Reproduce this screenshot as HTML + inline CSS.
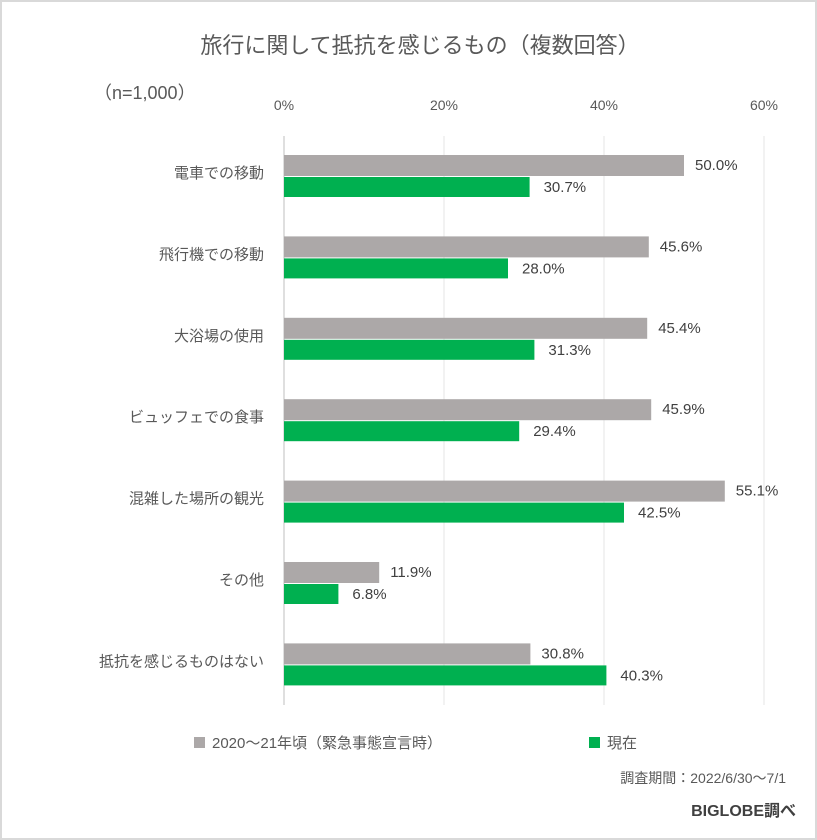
<!DOCTYPE html>
<html><head><meta charset="utf-8">
<style>
body{margin:0;background:#fff;}
svg{display:block;font-family:"Liberation Sans","Noto Sans CJK JP",sans-serif;}
</style></head>
<body>
<svg id="c" width="817" height="840">
<rect x="1" y="1" width="815" height="838" fill="#fff" stroke="#d9d9d9" stroke-width="2"/>
<text x="420" y="53" font-size="22" fill="#595959" text-anchor="middle">旅行に関して抵抗を感じるもの（複数回答）</text>
<text x="94" y="99" font-size="18" fill="#595959">（n=1,000）</text>
<g id="grid"></g>
<g id="bars"></g>
<rect x="194" y="737" width="11" height="11" fill="#aca8a8"/>
<text x="212" y="748" font-size="15" fill="#595959">2020～21年頃（緊急事態宣言時）</text>
<rect x="589" y="737" width="11" height="11" fill="#00b050"/>
<text x="607" y="748" font-size="15" fill="#595959">現在</text>
<text x="786" y="783" font-size="14" fill="#595959" text-anchor="end">調査期間：2022/6/30～7/1</text>
<text x="796" y="816" font-size="16" font-weight="bold" fill="#404040" text-anchor="end">BIGLOBE調べ</text>
</svg>
<script>
const categories=["電車での移動","飛行機での移動","大浴場の使用","ビュッフェでの食事","混雑した場所の観光","その他","抵抗を感じるものはない"];
const past=[50.0,45.6,45.4,45.9,55.1,11.9,30.8];
const now=[30.7,28.0,31.3,29.4,42.5,6.8,40.3];
const ticks=[0,20,40,60];
const NS="http://www.w3.org/2000/svg";
const x0=284,pxPer=8,top0=155,step=81.4;
const xs=v=>x0+v*pxPer;
function mk(t,a,p){const e=document.createElementNS(NS,t);for(const k in a)e.setAttribute(k,a[k]);p.appendChild(e);return e;}
const g=document.getElementById('grid'),b=document.getElementById('bars');
ticks.forEach(t=>{
  const l=mk('line',{x1:xs(t),x2:xs(t),y1:136,y2:705,stroke:t===0?'#bfbfbf':'#e6e6e6','stroke-width':1},g);
  
  
  const tx=mk('text',{x:xs(t),y:110,'font-size':14,fill:'#595959','text-anchor':'middle'},g);
  tx.textContent=t+'%';
  
  
});
categories.forEach((c,i)=>{
  const y=top0+i*step;
  const lab=mk('text',{x:264,y:y+23,'font-size':15,fill:'#595959','text-anchor':'end'},b);
  lab.textContent=c;
  
  
  const r1=mk('rect',{x:x0,y:y,width:xs(past[i])-x0,height:21,fill:'#aca8a8'},b);
  
  
  const r2=mk('rect',{x:x0,y:y+22,width:xs(now[i])-x0,height:20,fill:'#00b050'},b);
  
  
  const t1=mk('text',{x:xs(past[i])+11,y:y+15,'font-size':15,fill:'#404040'},b);
  t1.textContent=past[i].toFixed(1)+'%';
  
  
  const t2=mk('text',{x:xs(now[i])+14,y:y+37,'font-size':15,fill:'#404040'},b);
  t2.textContent=now[i].toFixed(1)+'%';
  
  
});
</script>
</body></html>
